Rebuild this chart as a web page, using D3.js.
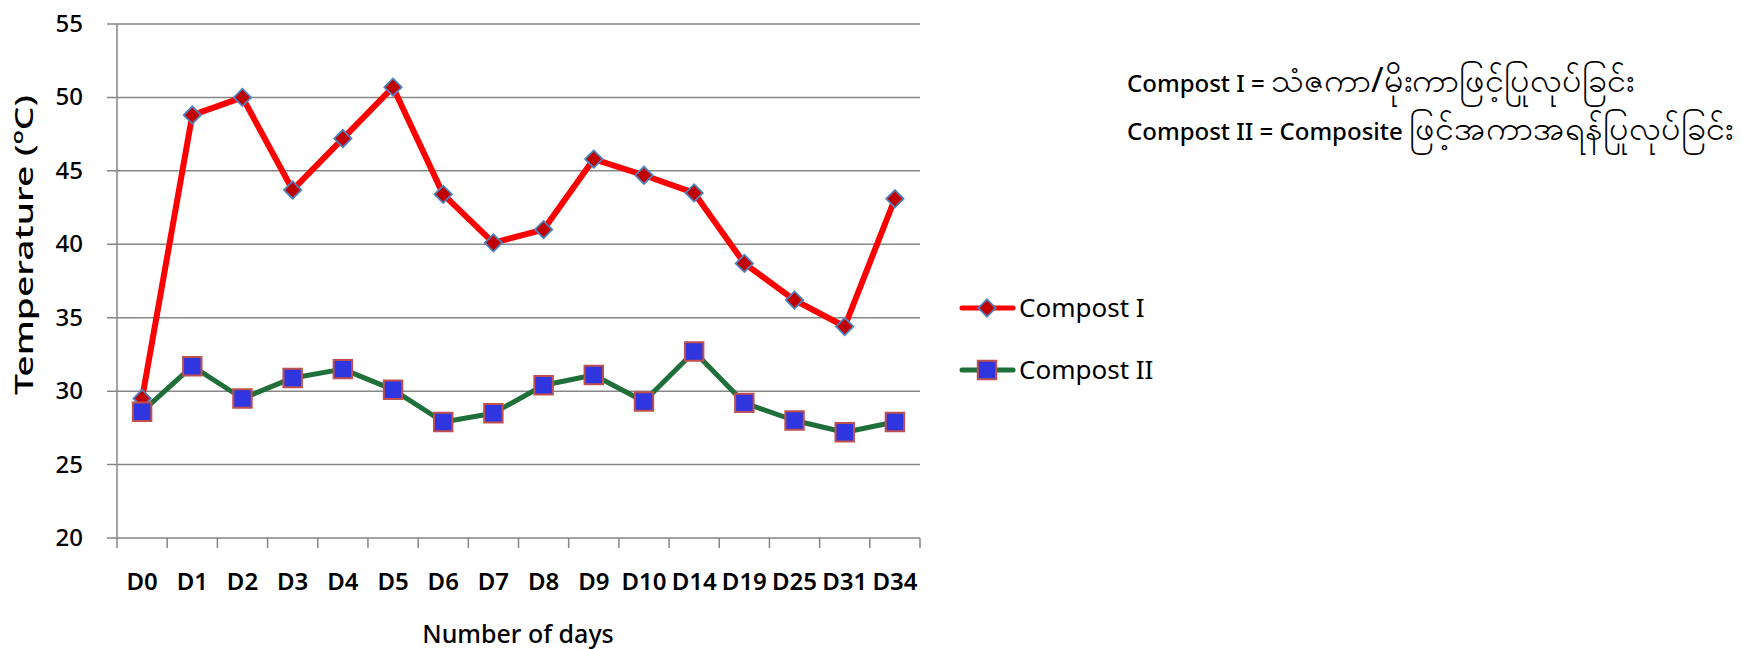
<!DOCTYPE html>
<html>
<head>
<meta charset="utf-8">
<script src="https://cdn.jsdelivr.net/npm/d3@7"></script>
<style>
  body { margin: 0; background: #fff; }
  text { font-family: "Noto Sans", "Open Sans", sans-serif; fill: #000; }
</style>
</head>
<body>
<script>
"use strict";

const width = 1754;
const height = 649;

const days = ["D0", "D1", "D2", "D3", "D4", "D5", "D6", "D7", "D8", "D9", "D10", "D14", "D19", "D25", "D31", "D34"];
const compost1 = [29.5, 48.8, 50.0, 43.7, 47.2, 50.7, 43.4, 40.1, 41.0, 45.8, 44.7, 43.5, 38.7, 36.2, 34.4, 43.1];
const compost2 = [28.6, 31.7, 29.5, 30.9, 31.5, 30.1, 27.9, 28.5, 30.4, 31.1, 29.3, 32.7, 29.2, 28.0, 27.2, 27.9];
const yTicks = [20, 25, 30, 35, 40, 45, 50, 55];
const seriesNames = ["Compost I", "Compost II"];
// note lines: latin part, myanmar part
const noteLatin = ["Compost I = ", "Compost II = Composite "];
const noteMyanmar = ["သံဇကာ/မိုးကာဖြင့်ပြုလုပ်ခြင်း", "ဖြင့်အကာအရန်ပြုလုပ်ခြင်း"];

const gridColor = "#868686";

let svg = d3.select("body")
  .append("svg")
  .attr("width", width)
  .attr("height", height);

const x = d3.scaleBand().domain(days).range([117, 920]).padding(0);
const y = d3.scaleLinear().domain([20, 55]).range([538, 24]);

// gridlines + y labels
let grid = svg.append("g");
grid.selectAll("line")
  .data(yTicks)
  .enter()
  .append("line")
  .attr("x1", 107)
  .attr("x2", 920)
  .attr("y1", d => y(d))
  .attr("y2", d => y(d))
  .attr("stroke", gridColor)
  .attr("stroke-width", 1.5);

grid.selectAll("text")
  .data(yTicks)
  .enter()
  .append("text")
  .attr("x", 83)
  .attr("y", d => y(d) + 8)
  .attr("text-anchor", "end")
  .attr("font-size", 24)
  .attr("font-weight", 500)
  .text(d => d);

// y axis line
svg.append("line")
  .attr("x1", 117).attr("x2", 117)
  .attr("y1", y(55)).attr("y2", y(20))
  .attr("stroke", gridColor)
  .attr("stroke-width", 1.5);

// x ticks between categories
const bounds = days.map(d => x(d)).concat([x.range()[1]]);
svg.append("g").selectAll("line")
  .data(bounds)
  .enter()
  .append("line")
  .attr("x1", d => d).attr("x2", d => d)
  .attr("y1", y(20)).attr("y2", y(20) + 10)
  .attr("stroke", gridColor)
  .attr("stroke-width", 1.5);

svg.append("g").selectAll("text")
  .data(days)
  .enter()
  .append("text")
  .attr("x", d => x(d) + x.bandwidth() / 2)
  .attr("y", 590)
  .attr("text-anchor", "middle")
  .attr("font-size", 24)
  .attr("font-weight", 600)
  .text(d => d);

// axis titles
svg.append("text")
  .attr("x", 518)
  .attr("y", 643)
  .attr("text-anchor", "middle")
  .attr("font-size", 25)
  .attr("font-weight", 500)
  .text("Number of days");

svg.append("text")
  .attr("transform", "translate(33,245) rotate(-90)")
  .attr("text-anchor", "middle")
  .attr("font-size", 25)
  .attr("font-weight", 500)
  .attr("textLength", 300)
  .attr("lengthAdjust", "spacingAndGlyphs")
  .text("Temperature (ºC)");

const cx = (d, i) => x(days[i]) + x.bandwidth() / 2;
const line = d3.line().x(cx).y(d => y(d));

const diamond = d3.symbol().type(d3.symbolSquare).size(150);
const square = d3.symbol().type(d3.symbolSquare).size(340);

// Compost I
svg.append("path")
  .datum(compost1)
  .attr("d", line)
  .attr("fill", "none")
  .attr("stroke", "#FF0000")
  .attr("stroke-width", 6)
  .attr("stroke-linejoin", "round");

svg.append("g").selectAll("path")
  .data(compost1)
  .enter()
  .append("path")
  .attr("d", diamond)
  .attr("transform", (d, i) => "translate(" + cx(d, i) + "," + y(d) + ") rotate(45)")
  .attr("fill", "#C00000")
  .attr("stroke", "#4F81BD")
  .attr("stroke-width", 1.8);

// Compost II
svg.append("path")
  .datum(compost2)
  .attr("d", line)
  .attr("fill", "none")
  .attr("stroke", "#1F6F3A")
  .attr("stroke-width", 5)
  .attr("stroke-linejoin", "round");

svg.append("g").selectAll("path")
  .data(compost2)
  .enter()
  .append("path")
  .attr("d", square)
  .attr("transform", (d, i) => "translate(" + cx(d, i) + "," + y(d) + ")")
  .attr("fill", "#2F35DF")
  .attr("stroke", "#C0504D")
  .attr("stroke-width", 2);

// legend
const legendY = [308, 370];
let legend = svg.append("g");
seriesNames.forEach((name, i) => {
  legend.append("line")
    .attr("x1", 962).attr("x2", 1013)
    .attr("y1", legendY[i]).attr("y2", legendY[i])
    .attr("stroke", i === 0 ? "#FF0000" : "#1F6F3A")
    .attr("stroke-width", 5)
    .attr("stroke-linecap", "round");
  legend.append("path")
    .attr("d", i === 0 ? diamond : square)
    .attr("transform", "translate(987," + legendY[i] + ")" + (i === 0 ? " rotate(45)" : ""))
    .attr("fill", i === 0 ? "#C00000" : "#2F35DF")
    .attr("stroke", i === 0 ? "#4F81BD" : "#C0504D")
    .attr("stroke-width", i === 0 ? 1.8 : 2);
  legend.append("text")
    .attr("x", 1019)
    .attr("y", legendY[i] + 9)
    .attr("font-size", 26)
    .text(name);
});

// notes top right
let notes = svg.append("g").selectAll("text")
  .data(noteLatin)
  .enter()
  .append("text")
  .attr("x", 1127)
  .attr("y", (d, i) => 92 + i * 48)
  .attr("font-size", 24)
  .attr("font-weight", 500);
notes.append("tspan").text(d => d);
notes.append("tspan")
  .attr("font-size", 34)
  .attr("font-weight", 400)
  .text((d, i) => noteMyanmar[i]);
</script>
</body>
</html>
